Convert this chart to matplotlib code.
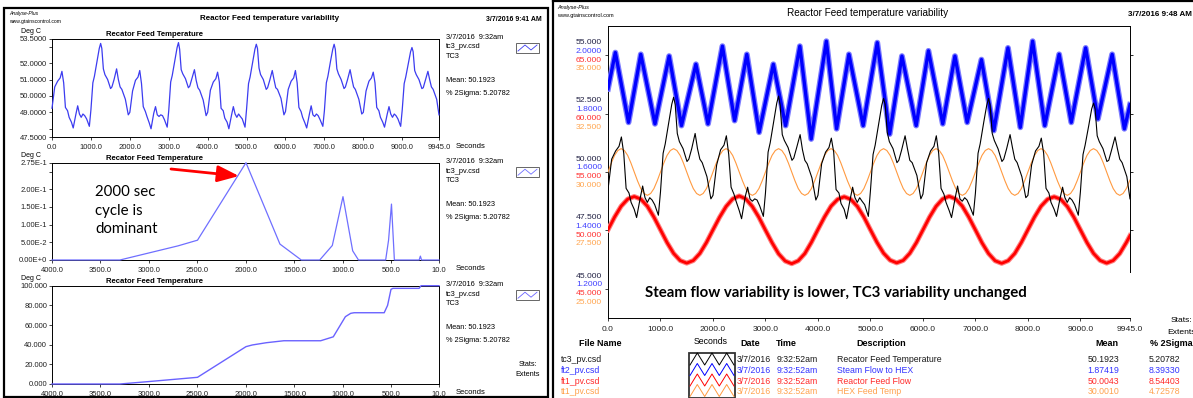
import numpy as np
import matplotlib
matplotlib.use('Agg')
import matplotlib.pyplot as plt
from matplotlib.patches import Rectangle
from matplotlib.transforms import blended_transform_factory, offset_copy

W, H = 1193, 398
plt.rcParams['font.family'] = ['Liberation Sans', 'DejaVu Sans']

# TC3 reactor feed temperature trend (seconds, deg C)
tc3_t = [
    0, 70, 145, 210, 255, 300, 345, 400, 440, 500, 545, 615, 660, 705, 750, 795, 840, 890, 960,
    1000, 1050, 1090, 1160, 1215, 1250, 1280, 1320, 1360, 1430, 1505, 1540, 1595, 1660, 1705, 1750, 1795, 1885, 1960,
    2000, 2070, 2145, 2210, 2255, 2300, 2345, 2400, 2440, 2500, 2545, 2615, 2660, 2705, 2750, 2795, 2840, 2890, 2960,
    3000, 3050, 3090, 3160, 3215, 3250, 3280, 3320, 3360, 3430, 3505, 3540, 3595, 3660, 3705, 3750, 3795, 3885, 3960,
    4000, 4070, 4145, 4210, 4255, 4300, 4345, 4400, 4440, 4500, 4545, 4615, 4660, 4705, 4750, 4795, 4840, 4890, 4960,
    5000, 5050, 5090, 5160, 5215, 5250, 5280, 5320, 5360, 5430, 5505, 5540, 5595, 5660, 5705, 5750, 5795, 5885, 5960,
    6000, 6070, 6145, 6210, 6255, 6300, 6345, 6400, 6440, 6500, 6545, 6615, 6660, 6705, 6750, 6795, 6840, 6890, 6960,
    7000, 7050, 7090, 7160, 7215, 7250, 7280, 7320, 7360, 7430, 7505, 7540, 7595, 7660, 7705, 7750, 7795, 7885, 7960,
    8000, 8070, 8145, 8210, 8255, 8300, 8345, 8400, 8440, 8500, 8545, 8615, 8660, 8705, 8750, 8795, 8840, 8890, 8960,
    9000, 9050, 9090, 9160, 9215, 9250, 9280, 9320, 9360, 9430, 9505, 9540, 9595, 9660, 9705, 9750, 9795, 9885, 9945,
]
tc3_v = [
    49.25, 50.55, 50.9, 51.1, 51.5, 50.8, 49.3, 49.1, 48.7, 48.4, 48.05, 48.9, 49.4, 48.9, 48.7, 48.9, 48.8, 48.6, 48.15,
    49.15, 50.8, 51.2, 52.15, 52.9, 53.2, 52.9, 51.65, 51.3, 51.0, 50.45, 50.55, 51.0, 51.65, 51.0, 50.55, 50.4, 49.8, 48.85,
    49.0, 50.3, 50.95, 51.15, 51.55, 50.75, 49.35, 49.05, 48.75, 48.35, 48.0, 48.95, 49.35, 48.85, 48.75, 48.85, 48.8, 48.55, 48.1,
    49.1, 50.85, 51.25, 52.2, 52.95, 53.25, 52.85, 51.6, 51.35, 51.05, 50.5, 50.6, 51.05, 51.6, 50.95, 50.5, 50.35, 49.75, 48.8,
    49.0, 50.35, 50.85, 51.05, 51.45, 50.85, 49.25, 49.1, 48.65, 48.4, 48.0, 48.85, 49.35, 48.9, 48.7, 48.9, 48.75, 48.6, 48.1,
    49.2, 50.75, 51.15, 52.1, 52.85, 53.15, 52.9, 51.7, 51.3, 51.0, 50.4, 50.5, 50.95, 51.55, 51.0, 50.5, 50.4, 49.85, 48.85,
    49.05, 50.4, 50.9, 51.1, 51.55, 50.8, 49.3, 49.05, 48.7, 48.35, 48.05, 48.9, 49.4, 48.85, 48.75, 48.9, 48.8, 48.55, 48.15,
    49.1, 50.8, 51.2, 52.15, 52.85, 53.15, 52.85, 51.65, 51.35, 51.0, 50.45, 50.55, 51.0, 51.6, 51.05, 50.55, 50.4, 49.8, 48.9,
    49.0, 50.3, 50.9, 51.1, 51.45, 50.8, 49.3, 49.1, 48.7, 48.4, 48.1, 48.9, 49.35, 48.9, 48.7, 48.9, 48.8, 48.6, 48.15,
    49.15, 50.75, 51.15, 52.0, 52.7, 52.95, 52.7, 51.55, 51.3, 51.0, 50.45, 50.5, 50.95, 51.5, 51.0, 50.55, 50.4, 49.8, 48.85,
]

# spectrum of TC3 (cycle period in seconds, amplitude)
spec_period = [4000, 3300, 2700, 2500, 2000, 1650, 1430, 1240, 1110, 1000, 900, 840,
               560, 530, 500, 470, 215, 202, 190, 10]
spec_amp = [0, 0, 0.040, 0.056, 0.275, 0.045, 0, 0, 0.041, 0.179, 0.026, 0,
            0, 0.056, 0.158, 0, 0, 0.011, 0, 0]

# cumulative spectrum (%)
cum_period = [4000, 3300, 3000, 2500, 2000, 1935, 1790, 1610, 1230, 1100, 975, 920, 885,
              575, 540, 505, 485, 215, 195, 10]
cum_pct = [0, 0, 2.5, 6.8, 38.0, 39.7, 42.0, 44.0, 44.0, 48.0, 68.5, 71.9, 72.5,
           72.5, 80.0, 96.3, 97.3, 97.3, 100, 100]

# ft2 steam flow to HEX: peaks and troughs of the trend
blue_t = [0, 140, 391, 625, 895, 1165, 1400, 1675, 1905, 2180, 2412, 2645, 2879, 3150, 3383,
          3655, 3871, 4160, 4355, 4590, 4861, 5130, 5366, 5600, 5871, 6105, 6378, 6610, 6843,
          7115, 7350, 7620, 7855, 8090, 8321, 8595, 8826, 9100, 9333, 9605, 9838, 9945]
blue_v = [1.885, 2.009, 1.77, 2.003, 1.765, 1.997, 1.759, 1.969, 1.765, 2.031, 1.776, 2.003,
          1.736, 1.969, 1.759, 2.031, 1.713, 2.048, 1.748, 2.003, 1.759, 2.043, 1.73, 1.997,
          1.759, 2.015, 1.765, 1.997, 1.77, 1.985, 1.742, 2.025, 1.753, 2.048, 1.759, 2.003, 1.77,
          2.025, 1.782, 2.003, 1.748, 1.83]

# ft1 reactor feed flow, sampled every 125 s
red_t = np.append(np.arange(0, 10000, 125), 9945)
red_v = [
    50.05, 51.14, 52.07, 52.68, 52.90, 52.68, 52.07, 51.14, 50.05, 48.96, 48.03, 47.42, 47.20, 47.42, 48.03, 48.96,
    50.05, 51.12, 52.05, 52.70, 52.95, 52.70, 52.05, 51.12, 50.02, 48.95, 48.00, 47.38, 47.15, 47.40, 48.02, 48.98,
    50.08, 51.15, 52.08, 52.66, 52.88, 52.66, 52.06, 51.15, 50.05, 48.97, 48.05, 47.45, 47.22, 47.43, 48.04, 48.95,
    50.04, 51.13, 52.06, 52.69, 52.92, 52.69, 52.08, 51.13, 50.04, 48.94, 48.02, 47.40, 47.18, 47.41, 48.03, 48.97,
    50.06, 51.14, 52.07, 52.67, 52.88, 52.67, 52.05, 51.14, 50.05, 48.96, 48.03, 47.43, 47.20, 47.42, 48.02, 48.96,
    49.55,
]

# tt1 HEX feed temp, sampled every 62.5 s
orange_t = np.append(np.arange(0, 9940, 62.5), 9945)
orange_v = [
    30.0, 30.38, 30.71, 30.92, 31.0, 30.92, 30.71, 30.38, 30.0, 29.62, 29.29, 29.08, 29.0, 29.08, 29.29, 29.62,
    30.0, 30.38, 30.71, 30.92, 31.0, 30.92, 30.71, 30.38, 30.0, 29.62, 29.29, 29.08, 29.0, 29.08, 29.29, 29.62,
    30.0, 30.38, 30.71, 30.92, 31.0, 30.92, 30.71, 30.38, 30.0, 29.62, 29.29, 29.08, 29.0, 29.08, 29.29, 29.62,
    30.0, 30.38, 30.71, 30.92, 31.0, 30.92, 30.71, 30.38, 30.0, 29.62, 29.29, 29.08, 29.0, 29.08, 29.29, 29.62,
    30.0, 30.38, 30.71, 30.92, 31.0, 30.92, 30.71, 30.38, 30.0, 29.62, 29.29, 29.08, 29.0, 29.08, 29.29, 29.62,
    30.0, 30.38, 30.71, 30.92, 31.0, 30.92, 30.71, 30.38, 30.0, 29.62, 29.29, 29.08, 29.0, 29.08, 29.29, 29.62,
    30.0, 30.38, 30.71, 30.92, 31.0, 30.92, 30.71, 30.38, 30.0, 29.62, 29.29, 29.08, 29.0, 29.08, 29.29, 29.62,
    30.0, 30.38, 30.71, 30.92, 31.0, 30.92, 30.71, 30.38, 30.0, 29.62, 29.29, 29.08, 29.0, 29.08, 29.29, 29.62,
    30.0, 30.38, 30.71, 30.92, 31.0, 30.92, 30.71, 30.38, 30.0, 29.62, 29.29, 29.08, 29.0, 29.08, 29.29, 29.62,
    30.0, 30.38, 30.71, 30.92, 31.0, 30.92, 30.71, 30.38, 30.0, 29.62, 29.29, 29.08, 29.0, 29.08, 29.29, 29.62,
    29.66,
]

time_ticks = [0, 1000, 2000, 3000, 4000, 5000, 6000, 7000, 8000, 9000, 9945]
period_ticks = [4000, 3500, 3000, 2500, 2000, 1500, 1000, 500, 10]

# legend table of the right window
files = ['tc3_pv.csd', 'ft2_pv.csd', 'ft1_pv.csd', 'tt1_pv.csd']
descriptions = ['Recator Feed Temperature', 'Steam Flow to HEX', 'Reactor Feed Flow', 'HEX Feed Temp']
means = ['50.1923', '1.87419', '50.0043', '30.0010']
sigmas = ['5.20782', '8.39330', '8.54403', '4.72578']
line_colors = ['black', '#0000ff', '#ff0000', '#ff9a40']
text_colors = ['#1a1a1a', '#3333ff', '#ff2a2a', '#ffa24e']

fig = plt.figure(figsize=(W / 100, H / 100), dpi=100)


def px_axes(x0, y0, x1, y1):
    return fig.add_axes([x0 / W, 1 - y1 / H, (x1 - x0) / W, (y1 - y0) / H])


ov = fig.add_axes([0, 0, 1, 1], zorder=20)
ov.set_xlim(0, W)
ov.set_ylim(H, 0)
ov.axis('off')

# ---------------- left window ----------------
ov.add_patch(Rectangle((4, 8), 544, 389, fill=False, lw=1.6, ec='black'))
ov.text(9, 14, 'Analyse-Plus', fontsize=3.6, style='italic', va='center')
ov.text(9, 22, 'www.gtainscontrol.com', fontsize=3.6, va='center')
ov.text(270, 18, 'Reactor Feed temperature variability', fontsize=5.8, weight='bold', ha='center', va='center')
ov.text(542, 19.5, '3/7/2016 9:41 AM', fontsize=5.0, weight='bold', ha='right', va='center')


def left_panel(top, bottom, xs, ys, color, xlim, xticks, yticks, ylabels, yminor, ylim, lw):
    ax = px_axes(52, top, 439, bottom)
    ax.plot(xs, ys, color=color, lw=lw, zorder=3, clip_on=False)
    ax.set_xlim(*xlim)
    ax.set_ylim(*ylim)
    ax.set_xticks(xticks)
    ax.set_xticklabels(['%.1f' % v for v in xticks])
    ax.set_yticks(yticks)
    ax.set_yticklabels(ylabels)
    ax.set_yticks(yminor, minor=True)
    ax.tick_params(axis='both', which='both', direction='out', length=2.5, width=0.6,
                   labelsize=5.5, colors='#222222')
    ax.tick_params(axis='y', pad=1.0)
    ax.tick_params(axis='x', pad=2.2)
    for s in ax.spines.values():
        s.set_linewidth(0.7)
    ov.text(21, top - 7, 'Deg C', fontsize=5.0, va='center')
    ov.text(154, top - 4.5, 'Recator Feed Temperature', fontsize=5.6, weight='bold', ha='center', va='center')
    ov.text(456, bottom + 9, 'Seconds', fontsize=5.5, va='center')
    info = ['3/7/2016  9:32am', 'tc3_pv.csd', 'TC3', 'Mean: 50.1923', '% 2Sigma: 5.20782']
    for txt, dy in zip(info, [-1, 8.5, 17.5, 42, 55]):
        ov.text(446, top + dy, txt, fontsize=5.3, va='center')
    ov.add_patch(Rectangle((516, top + 4.5), 23, 10, fill=False, lw=0.7, ec='#666666'))
    ov.plot([518, 525, 531, 537], [top + 12.5, top + 6.5, top + 11.5, top + 6.5], color=color, lw=0.6)
    return ax


left_panel(38.5, 137, tc3_t, tc3_v, '#3c3cf0', (0, 9945), time_ticks,
           [47.5, 49, 50, 51, 52, 53.5], ['%.4f' % v for v in [47.5, 49, 50, 51, 52, 53.5]],
           [48, 53], (47.5, 53.5), 0.9)
left_panel(162.7, 260, spec_period, spec_amp, '#6f6fff', (4000, 10), period_ticks,
           [0, 0.05, 0.1, 0.15, 0.2, 0.275],
           ['0.00E+0', '5.00E-2', '1.00E-1', '1.50E-1', '2.00E-1', '2.75E-1'],
           [0.25], (0, 0.275), 0.9)
left_panel(285.7, 384, cum_period, cum_pct, '#6a62ff', (4000, 10), period_ticks,
           [0, 20, 40, 60, 80, 100], ['%.3f' % v for v in [0, 20, 40, 60, 80, 100]],
           [], (0, 100), 1.0)
ov.text(528, 364, 'Stats:', fontsize=5.3, ha='center', va='center')
ov.text(528, 374, 'Extents', fontsize=5.3, ha='center', va='center')

# callout
for i, line in enumerate(['2000 sec', 'cycle is', 'dominant']):
    ov.text(95, 191.7 + 18.8 * i, line, fontsize=10.8, family=['Lato', 'DejaVu Sans'], va='center')
ov.annotate('', xy=(239, 176), xytext=(171, 169),
            arrowprops=dict(arrowstyle='-|>,head_length=1.3,head_width=0.5', color='#ff0000',
                            lw=2.0, mutation_scale=10, shrinkA=0, shrinkB=0))

# ---------------- right window ----------------
ov.plot([553, 553], [0, 398], color='black', lw=1.6)
ov.plot([553, 1193], [1, 1], color='black', lw=1.6)
ov.text(557, 7, 'Analyse-Plus', fontsize=4.0, style='italic', va='center')
ov.text(557, 16, 'www.gtainscontrol.com', fontsize=4.0, va='center')
ov.text(868, 13, 'Reactor Feed temperature variability', fontsize=7.2, ha='center', va='center')
ov.text(1192, 14, '3/7/2016 9:48 AM', fontsize=5.8, weight='bold', ha='right', va='center')

rect = (608, 26, 1130, 318)
ax_k = px_axes(*rect)
ax_k.set_xlim(0, 9945)
ax_k.set_ylim(43.75, 56.25)
ax_k.set_xticks(time_ticks)
ax_k.set_xticklabels(['%.1f' % v for v in time_ticks])
ax_k.set_yticks([45, 47.5, 50, 52.5, 55])
ax_k.tick_params(axis='both', direction='out', length=2.4, width=0.6, labelsize=6.1,
                 colors='#222222', labelleft=False)
ax_k.tick_params(axis='x', pad=3.2)
for s in ax_k.spines.values():
    s.set_linewidth(0.7)
ax_k.spines['right'].set_visible(False)

ax_rt = ax_k.twinx()
ax_rt.set_ylim(43.75, 56.25)
ax_rt.set_yticks([47.5, 50, 52.5, 55])
ax_rt.tick_params(axis='y', direction='out', length=2.4, width=0.6, labelright=False)
for name in ['top', 'left', 'bottom']:
    ax_rt.spines[name].set_visible(False)
ax_rt.spines['right'].set_linewidth(0.7)
ax_rt.spines['right'].set_bounds(45.7, 56.25)


def series_axes(ylim):
    a = px_axes(*rect)
    a.set_xlim(0, 9945)
    a.set_ylim(*ylim)
    a.axis('off')
    return a


ax_o = series_axes((23.75, 36.25))
ax_r = series_axes((42.5, 67.5))
ax_b = series_axes((1.1, 2.1))
ax_k2 = series_axes((43.75, 56.25))

ax_o.plot(orange_t, orange_v, color='#ff9a40', lw=0.8)
ax_r.plot(red_t, red_v, color='#ff8080', lw=3.6, solid_joinstyle='round')
ax_r.plot(red_t, red_v, color='#ff0000', lw=2.0, solid_joinstyle='round')
ax_b.plot(blue_t, blue_v, color='#7a7aff', lw=4.2, solid_joinstyle='round')
ax_b.plot(blue_t, blue_v, color='#0000ff', lw=2.4, solid_joinstyle='round')
ax_k2.plot(tc3_t, tc3_v, color='black', lw=0.8)

scales = [
    (ax_k2, [45, 47.5, 50, 52.5, 55], '%.3f', '#222244', -12.8),
    (ax_b, [1.2, 1.4, 1.6, 1.8, 2.0], '%.4f', '#4040ff', -4.1),
    (ax_r, [45, 50, 55, 60, 65], '%.3f', '#ff3030', 4.9),
    (ax_o, [25, 27.5, 30, 32.5, 35], '%.3f', '#ffa650', 13.5),
]
for a, ticks, fmt, col, off in scales:
    tr = offset_copy(blended_transform_factory(fig.transFigure, a.transData), fig=fig,
                     x=0, y=-off * 0.72, units='points')
    for v in ticks:
        a.text(602 / W, v, fmt % v, transform=tr, ha='right', va='center', fontsize=6.1, color=col)

ov.text(645, 293, 'Steam flow variability is lower, TC3 variability unchanged',
        fontsize=10.8, weight='bold', family=['Lato', 'DejaVu Sans'], va='center')
ov.text(1181, 321, 'Stats:', fontsize=6.1, ha='center', va='center')
ov.text(1181, 332, 'Extents', fontsize=6.1, ha='center', va='center')

# legend table
hdr = dict(fontsize=6.5, weight='bold', ha='center', va='center')
ov.text(600, 343, 'File Name', **hdr)
ov.text(711, 342, 'Seconds', fontsize=6.3, ha='center', va='center')
ov.text(750, 343, 'Date', **hdr)
ov.text(786, 343, 'Time', **hdr)
ov.text(881, 343, 'Description', **hdr)
ov.text(1107, 343, 'Mean', **hdr)
ov.text(1171, 343, '% 2Sigma', **hdr)

ov.add_patch(Rectangle((689, 353), 46, 45, fill=False, lw=1.3, ec='#333333'))
zig_x = [690, 697.3, 704.7, 712, 719.3, 726.7, 734]
for i in range(4):
    y = 360 + 10.5 * i
    ov.text(561, y, files[i], fontsize=6.3, color=text_colors[i], va='center')
    ov.text(737, y, '3/7/2016', fontsize=6.3, color=text_colors[i], va='center')
    ov.text(777, y, '9:32:52am', fontsize=6.3, color=text_colors[i], va='center')
    ov.text(837, y, descriptions[i], fontsize=6.3, color=text_colors[i], va='center')
    ov.text(1119.5, y, means[i], fontsize=6.3, color=text_colors[i], ha='right', va='center')
    ov.text(1149, y, sigmas[i], fontsize=6.3, color=text_colors[i], va='center')
    yc = y - 1
    ov.plot(zig_x, [yc + 6, yc - 6, yc + 6, yc - 6, yc + 6, yc - 6, yc + 6],
            color=line_colors[i], lw=0.7)

fig.savefig('out.png', dpi=100)
